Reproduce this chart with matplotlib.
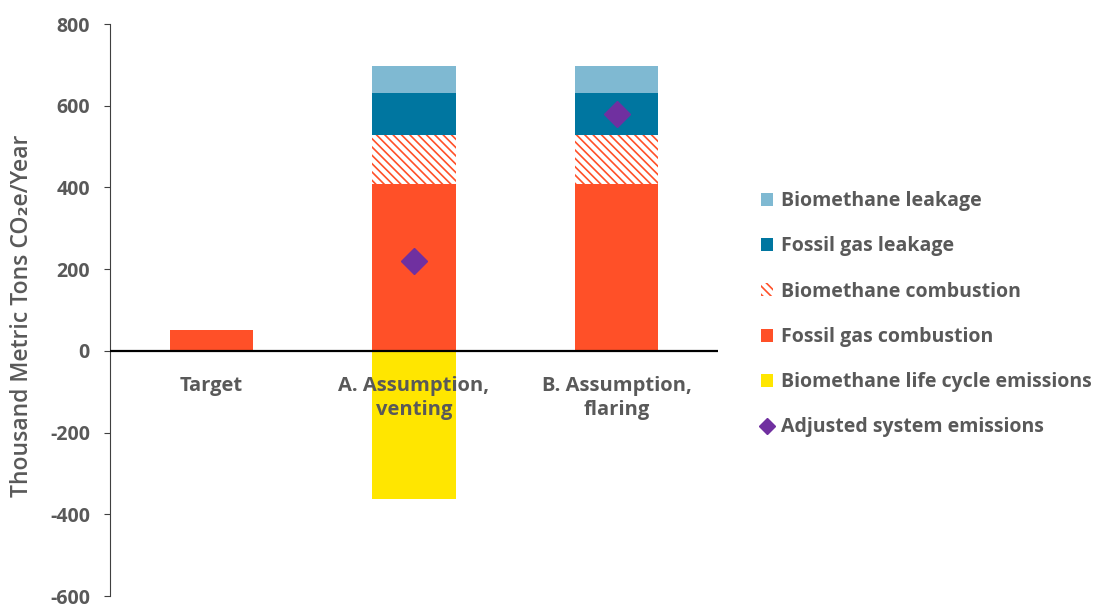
import matplotlib.pyplot as plt
import numpy as np

plt.rcParams['font.family'] = ['Open Sans', 'DejaVu Sans']
plt.rcParams['hatch.linewidth'] = 1.2
plt.rcParams['axes.unicode_minus'] = False

categories = ['Target', 'A. Assumption,\nventing', 'B. Assumption,\nflaring']
fossil_combustion = [50, 409, 409]
bio_combustion = [0, 120, 120]
fossil_leakage = [0, 103, 103]
bio_leakage = [0, 66, 66]
bio_lifecycle = [0, -362, 0]
adjusted = [np.nan, 220, 580]

TXT = '#595959'
FS = 14.5


def main():
  fig = plt.figure(figsize=(11.01, 6.07), dpi=100)
  ax = fig.add_axes([0.1, 0.0181, 0.552, 0.9423])

  x = np.arange(len(categories))
  w = 0.41
  fc = np.array(fossil_combustion)
  bc = np.array(bio_combustion)
  fl = np.array(fossil_leakage)

  h_bl = ax.bar(x, bio_leakage, w, bottom=fc + bc + fl, color='#7FB9D2',
                label='Biomethane leakage')
  h_fl = ax.bar(x, fossil_leakage, w, bottom=fc + bc, color='#0076A0',
                label='Fossil gas leakage')
  h_bc = ax.bar(x, bio_combustion, w, bottom=fc, facecolor='white',
                edgecolor='#FF5028', hatch='\\\\\\\\', linewidth=0,
                label='Biomethane combustion')
  h_fc = ax.bar(x, fossil_combustion, w, color='#FF5028',
                label='Fossil gas combustion')
  h_lc = ax.bar(x, bio_lifecycle, w, color='#FFE600',
                label='Biomethane life cycle emissions')
  h_adj, = ax.plot(x, adjusted, 'D', color='#7030A0', markersize=13,
                   linestyle='none', label='Adjusted system emissions', zorder=5)

  ax.axhline(0, color='black', linewidth=1.6, zorder=4)

  ax.set_xlim(-0.5, 2.5)
  ax.set_ylim(-600, 800)
  ax.set_yticks(range(-600, 801, 200))
  ax.set_xticks([])
  for s in ['top', 'right', 'bottom']:
    ax.spines[s].set_visible(False)
  ax.spines['left'].set_color('#404040')
  ax.tick_params(axis='y', colors='#404040', length=4.5, labelsize=14,
                 labelcolor=TXT, pad=10)
  for lab in ax.get_yticklabels():
    lab.set_fontweight('bold')

  fig.text(22 / 1101, 0.479, 'Thousand Metric Tons CO\u2082e/Year',
           rotation=90, ha='center', va='center', fontsize=16.5,
           fontweight='semibold', color=TXT)

  for i, c in enumerate(categories):
    ax.annotate(c, xy=(i, 0), xytext=(0, -18), textcoords='offset points',
                ha='center', va='top', fontsize=FS, fontweight='bold',
                color=TXT, linespacing=1.3, zorder=6)

  handles = [h_bl, h_fl, h_bc, h_fc, h_lc, h_adj]
  leg = fig.legend(handles, [h.get_label() for h in handles],
                   loc='upper left', bbox_to_anchor=(0.675, 0.714),
                   frameon=False, fontsize=14, labelspacing=1.3,
                   handlelength=0.65, handleheight=0.65, handletextpad=0.4,
                   markerscale=0.6)
  for t in leg.get_texts():
    t.set_color(TXT)
    t.set_fontweight('bold')

  fig.savefig('out.png', dpi=100)


if __name__ == "__main__":
  main()
